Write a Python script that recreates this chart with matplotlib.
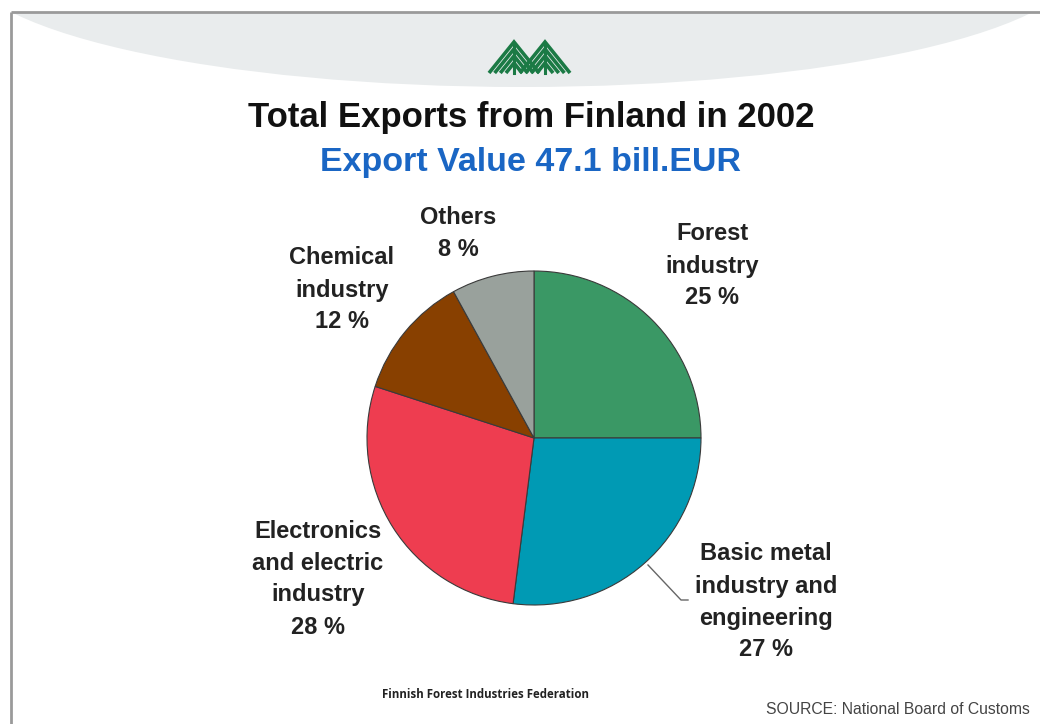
import matplotlib
matplotlib.use("Agg")
import matplotlib.pyplot as plt
from matplotlib.patches import Ellipse, Rectangle

# Export shares by sector, 2002 (percent of total export value)
categories = [
    "Forest industry",
    "Basic metal industry and engineering",
    "Electronics and electric industry",
    "Chemical industry",
    "Others",
]
label_lines = [
    ["Forest", "industry"],
    ["Basic metal", "industry and", "engineering"],
    ["Electronics", "and electric", "industry"],
    ["Chemical", "industry"],
    ["Others"],
]
shares = [25, 27, 28, 12, 8]
colors = ["#3a9865", "#009ab4", "#ee3d50", "#884000", "#99a19c"]

title = "Total Exports from Finland in 2002"
subtitle = "Export Value 47.1 bill.EUR"
publisher = "Finnish Forest Industries Federation"
source = "SOURCE: National Board of Customs"

W, H = 1040, 724
fig = plt.figure(figsize=(W / 100, H / 100), dpi=100)
fig.patch.set_facecolor("white")

# full-figure layer in pixel units (y grows downward)
bg = fig.add_axes([0, 0, 1, 1])
bg.set_xlim(0, W)
bg.set_ylim(H, 0)
bg.axis("off")

# light arc behind the header, clipped to the frame
frame_clip = Rectangle((11, 12), W, H, transform=bg.transData)
arc = Ellipse((522, -40), 1120, 254, facecolor="#e9eced", edgecolor="none")
bg.add_patch(arc)
arc.set_clip_path(frame_clip)

# frame lines
bg.plot([11, W], [12, 12], color="#9a9a9a", lw=2, solid_capstyle="butt")
bg.plot([11, 11], [12, H], color="#9a9a9a", lw=2, solid_capstyle="butt")

# tree logo
logo_green = "#1b7a45"
for px in (514, 545):
    top, base, half = 42, 73, 25
    for k in range(4):
        off = k * 7.0
        dx = half * (base - top - off) / (base - top)
        bg.plot([px - dx, px, px + dx], [base, top + off, base],
                color=logo_green, lw=2.6, solid_joinstyle="miter",
                solid_capstyle="butt")
    bg.plot([px, px], [top + 2, base], color=logo_green, lw=2.2)

# headings
bg.text(531, 117, title, ha="center", va="center", fontsize=25,
        fontweight="bold", family="Liberation Sans", color="#111111")
bg.text(531, 163, subtitle, ha="center", va="center", fontsize=24.5,
        fontweight="bold", family="Liberation Sans", color="#1a66c4")

# pie
cx, cy, r = 534, 438, 167
pax = fig.add_axes([(cx - r) / W, (H - cy - r) / H, 2 * r / W, 2 * r / H])
pax.pie(shares, colors=colors, startangle=90, counterclock=False,
        wedgeprops=dict(edgecolor="#3a3a3a", linewidth=0.8))
pax.set_xlim(-1, 1)
pax.set_ylim(-1, 1)
pax.set_aspect("auto")
pax.axis("off")

# sector labels
label_pos = [(712, 234), (766, 554), (318, 531), (342, 258), (458, 218)]
line_gap = 32
for lines, share, (lx, ly) in zip(label_lines, shares, label_pos):
    for i, s in enumerate(lines + [f"{share} %"]):
        bg.text(lx, ly + i * line_gap, s, ha="center", va="center",
                fontsize=17, fontweight="bold", family="Liberation Sans",
                color="#222222")

# leader line for the metal sector
bg.plot([648, 681, 688], [565, 600, 600], color="#666666", lw=1.0)

# footer
bg.text(485, 694, publisher, ha="center", va="center", fontsize=8.3,
        fontweight="bold", family="Open Sans", color="#222222")
bg.text(1030, 710, source, ha="right", va="center", fontsize=11.3,
        family="Liberation Sans", color="#444444")

fig.savefig("out.png", dpi=100)
